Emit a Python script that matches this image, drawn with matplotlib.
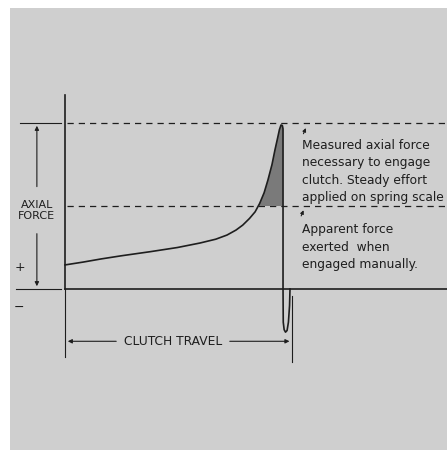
import numpy as np
import matplotlib
matplotlib.use('Agg')
import matplotlib.pyplot as plt
from matplotlib.patches import Rectangle

plt.rcParams['font.family'] = ['DejaVu Sans']

# clutch travel (0..100) vs axial force (0 = baseline, 100 = measured peak)
travel = [0, 8, 16, 25, 38, 50, 60, 67, 72, 76, 79, 82, 84.5, 86.5, 88.5, 90.2, 92, 93.3, 94.5, 95.3, 96.0,
          96.6, 96.9, 96.9, 96.9, 97.0, 97.4, 98.0, 98.7, 99.3, 99.8, 100]
force = [14.5, 16.2, 18.1, 20.0, 22.5, 25.0, 27.7, 30.0, 32.5, 35.5, 38.5, 42.5, 46.5, 51.5, 58.0, 65.7, 75.0,
         83.7, 91.0, 96.0, 98.8, 98.5, 96.5, 50.0, 0.0, -20.0, -24.5, -26.0, -25.0, -20.0, -10.0, 0.0]

measured_force = 100
apparent_force = 50

fig = plt.figure(figsize=(4.47, 4.5), dpi=100)
ax = fig.add_axes([0, 0, 1, 1])
ax.set_axis_off()

# pixel -> data mapping: x px = 65 + 2.25*t ; y px = 289 - 1.66*f
ax.set_xlim(-65 / 2.25, (447 - 65) / 2.25)
ax.set_ylim((289 - 450) / 1.66, 289 / 1.66)

# scanned paper background
fig.patch.set_facecolor('white')
fig.patches.append(Rectangle((10 / 447, 0), 1, 1 - 8 / 450, transform=fig.transFigure,
                             facecolor='#cfcfcf', edgecolor='none', zorder=-5))

ink = '#1e1e1e'

# axes
ax.plot([0, 0], [117, 0], color=ink, lw=1.2)
ax.plot([0, 170], [0, 0], color=ink, lw=1.2)

# dashed reference lines
ax.plot([1, 170], [measured_force, measured_force], color=ink, lw=0.9, ls=(0, (5, 4)))
ax.plot([1, 170], [apparent_force, apparent_force], color=ink, lw=0.9, ls=(0, (5, 4)))

# shaded area above apparent force
t = np.array(travel)
f = np.array(force)
peak = int(np.argmax(f))
rise_t = t[:peak + 1]
rise_f = f[:peak + 1]
f_sh = np.linspace(apparent_force, rise_f.max(), 60)
t_left = np.interp(f_sh, rise_f, rise_t)
ax.fill(np.r_[t_left, [96.9, 96.9]], np.r_[f_sh, [rise_f.max(), apparent_force]],
        color='#7a7a7a', lw=0, zorder=2)

# force curve
ax.plot(travel, force, color=ink, lw=1.2, zorder=3, solid_joinstyle='round')

txt = dict(fontsize=8.8, color=ink)

# axial force dimension
ax.plot([-20, -2], [100, 100], color=ink, lw=0.8)
ax.plot([-22, -2], [0, 0], color=ink, lw=0.8)
ax.annotate('', xy=(-12.5, 100), xytext=(-12.5, 60),
            arrowprops=dict(arrowstyle='-|>', color=ink, lw=0.8, mutation_scale=6))
ax.annotate('', xy=(-12.5, 0), xytext=(-12.5, 35),
            arrowprops=dict(arrowstyle='-|>', color=ink, lw=0.8, mutation_scale=6))
ax.text(-12.5, 47.5, 'AXIAL\nFORCE', ha='center', va='center', linespacing=1.1,
        fontsize=8, color=ink)
ax.text(-20, 13, '+', ha='center', va='center', fontsize=9, color=ink)
ax.text(-20.5, -11, '\u2212', ha='center', va='center', fontsize=9, color=ink)

# clutch travel dimension
ax.plot([0, 0], [0, -41], color=ink, lw=0.8)
ax.plot([101, 101], [-4, -44], color=ink, lw=0.8)
ax.annotate('', xy=(0, -31.5), xytext=(24, -31.5),
            arrowprops=dict(arrowstyle='-|>', color=ink, lw=0.8, mutation_scale=6))
ax.annotate('', xy=(101, -31.5), xytext=(72, -31.5),
            arrowprops=dict(arrowstyle='-|>', color=ink, lw=0.8, mutation_scale=6))
ax.text(48, -31.5, 'CLUTCH TRAVEL', ha='center', va='center', **txt)

# notes
ax.annotate('', xy=(107.5, 98.5), xytext=(105.5, 92),
            arrowprops=dict(arrowstyle='-|>', color=ink, lw=0.8, mutation_scale=5))
ax.text(105.5, 90.5, 'Measured axial force\nnecessary to engage\nclutch. Steady effort\napplied on spring scale',
        ha='left', va='top', linespacing=1.45, **txt)
ax.annotate('', xy=(106.5, 49), xytext=(104.5, 42.5),
            arrowprops=dict(arrowstyle='-|>', color=ink, lw=0.8, mutation_scale=5))
ax.text(105.5, 39.5, 'Apparent force\nexerted  when\nengaged manually.',
        ha='left', va='top', linespacing=1.45, **txt)

fig.savefig('out.png', dpi=100)
